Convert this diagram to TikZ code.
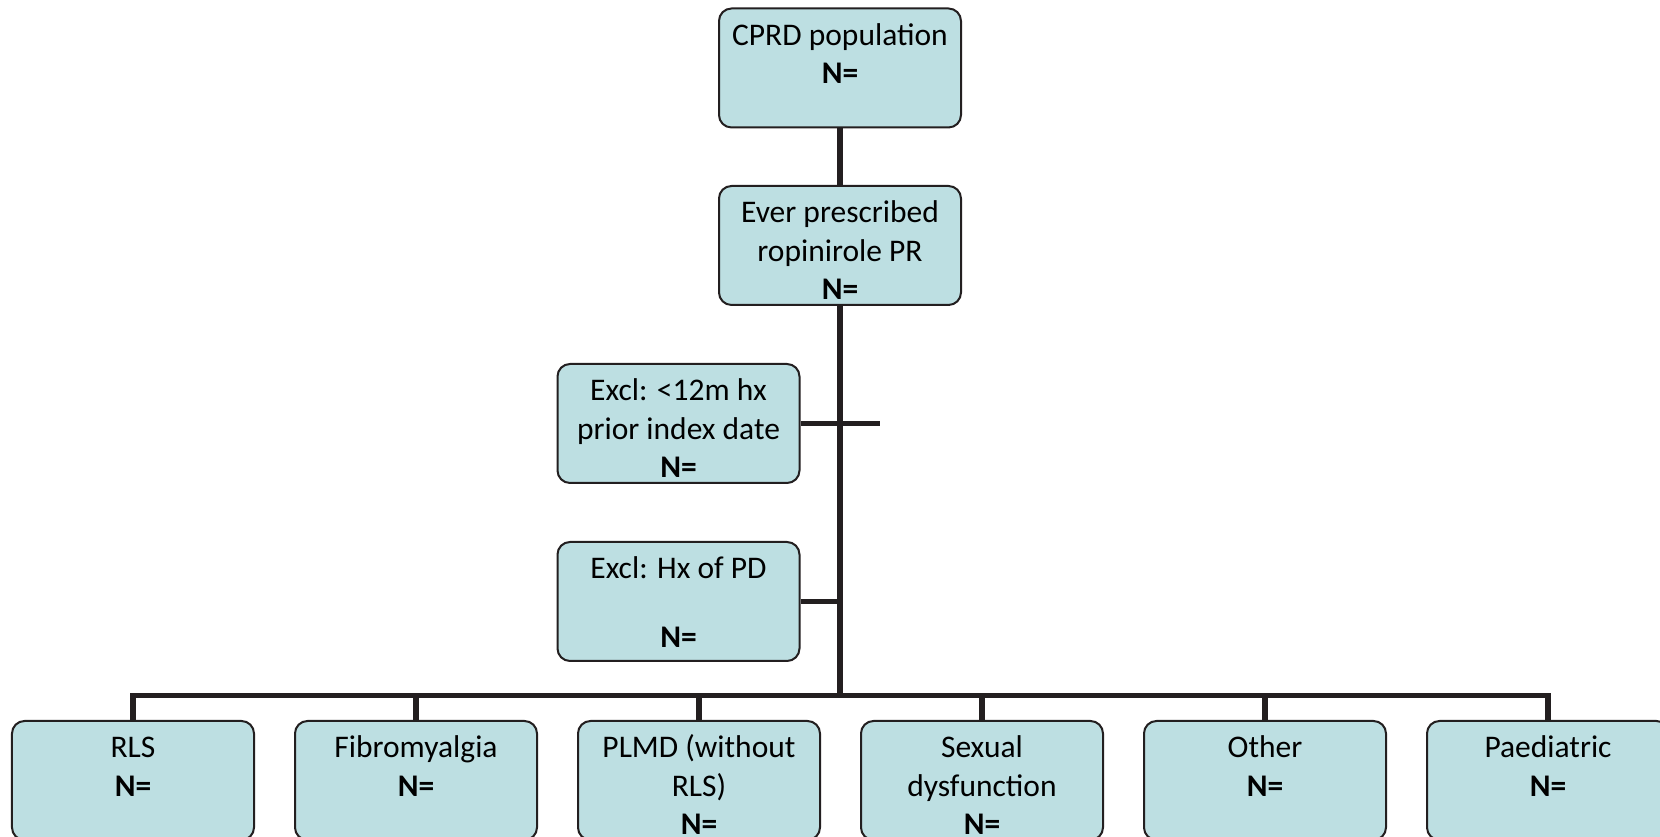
\documentclass[tikz,border=0pt]{standalone}
\usepackage{fontspec}
\setmainfont{Carlito}
\usepackage{xcolor}
\usepackage{tikz}
\definecolor{boxfill}{RGB}{189,223,226}
\definecolor{boxline}{RGB}{35,31,32}
\newcommand{\boxlines}[1]{\parbox[c][47.6pt][t]{96.8pt}{\centering\rule{0pt}{14.8pt}#1}}

\begin{document}
\begin{tikzpicture}[x=0.4pt, y=0.4pt,
    flowbox/.style={draw=boxline, line width=0.8pt, fill=boxfill, rounded corners=5pt,
      inner sep=0pt, font=\fontsize{12.6}{15.3}\selectfont},
    link/.style={draw=boxline, line width=2.2pt}]
    \useasboundingbox (0,0) rectangle (1660,837);
    % top of the flow
    \node[flowbox] (pop) at (840,769) {\boxlines{CPRD population\\\textbf{N=}}};
    \node[flowbox] (ever) at (840,591.5) {\boxlines{Ever prescribed\\ropinirole PR\\\textbf{N=}}};
    % exclusions hang off the trunk
    \node[flowbox] (excl1) at (678.5,413.5) {\boxlines{Excl: <12m hx\\prior index date\\\textbf{N=}}};
    \node[flowbox] (excl2) at (678.5,235.5) {\boxlines{Excl: Hx of PD\\[-3pt]\mbox{}\\\textbf{N=}}};
    \coordinate (tick) at (880,413.5);
    \coordinate (hub) at (840,141.4);
    % indication groups
    \foreach \name/\x/\txt in {rls/133/RLS, fibro/416/Fibromyalgia, plmd/699/PLMD (without\\RLS),
        sexual/982/Sexual\\dysfunction, other/1265/Other, paed/1548/Paediatric}
      \node[flowbox] (\name) at (\x,56.5) {\boxlines{\txt\\\textbf{N=}}};
    \draw[link] (pop) -- (ever);
    \draw[link] (ever) -- (hub);
    \draw[link] (excl1.east) -- (tick);
    \draw[link] (excl2.east) -- (excl2.east -| hub);
    \draw[link] (rls.north) -- (rls.north |- hub) -- (paed.north |- hub) -- (paed.north);
    \foreach \name in {fibro, plmd, sexual, other}
      \draw[link] (\name.north |- hub) -- (\name.north);
  \end{tikzpicture}
\end{document}
